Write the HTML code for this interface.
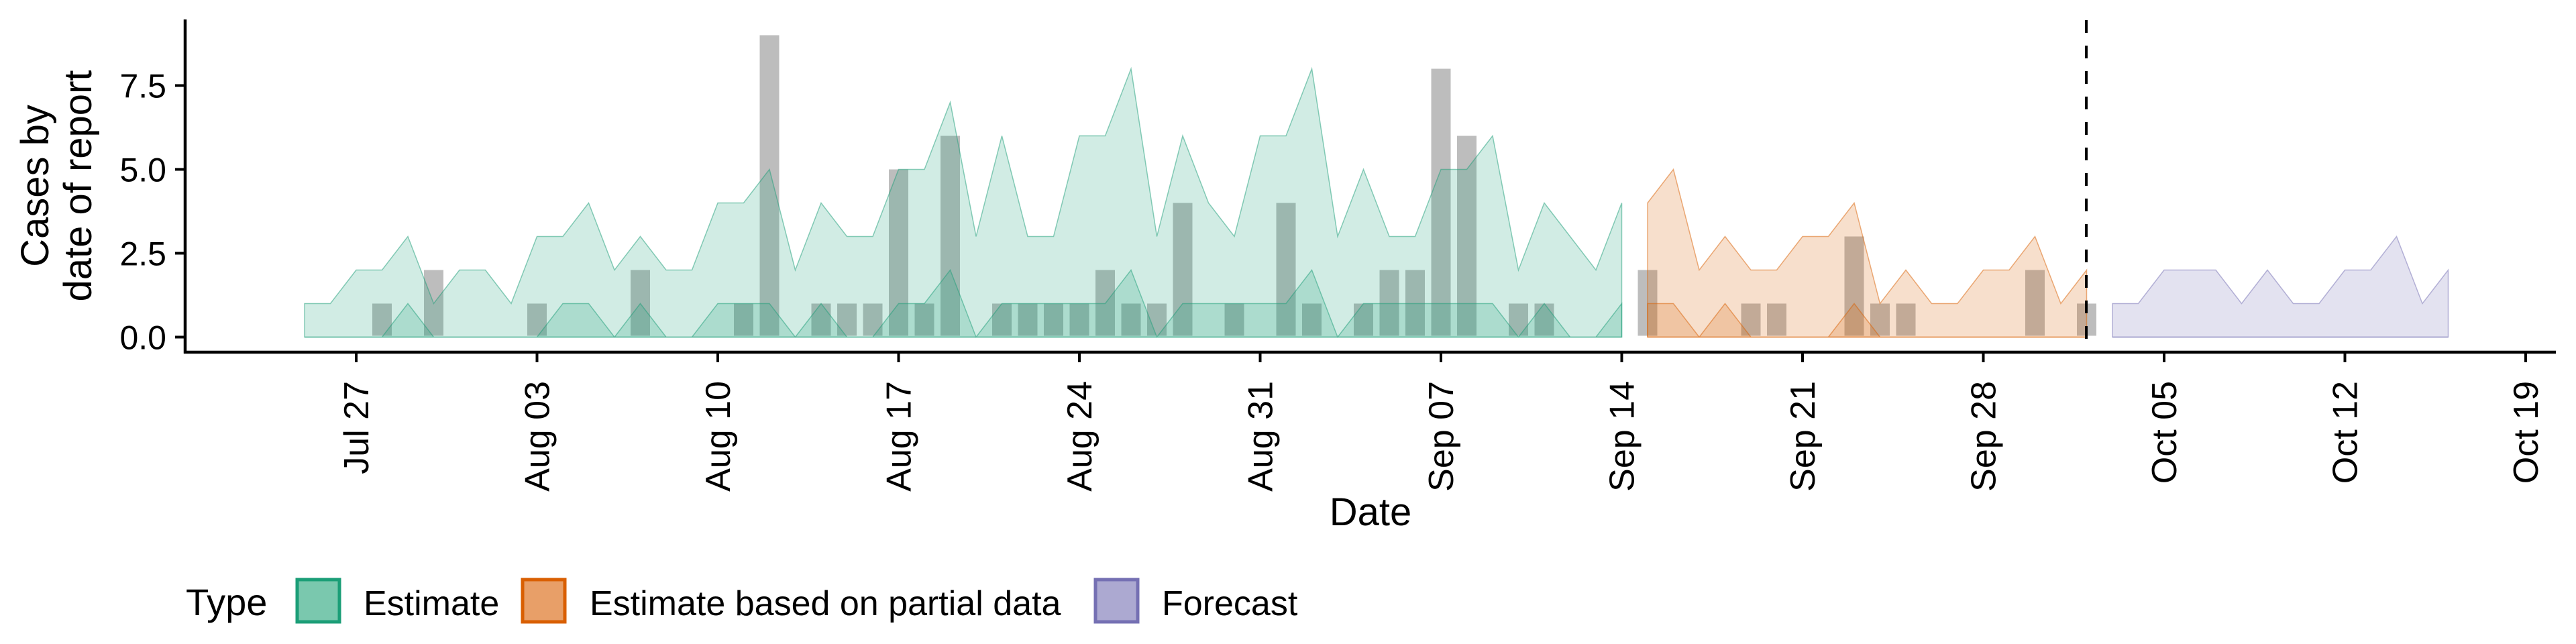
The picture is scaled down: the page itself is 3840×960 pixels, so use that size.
<!DOCTYPE html>
<html><head><meta charset="utf-8">
<style>
html,body{margin:0;padding:0;background:#fff;}
svg{display:block;font-family:"Liberation Sans",Arial,sans-serif;}
</style></head>
<body>
<svg id="chart" width="3840" height="960" viewBox="0 0 3840 960" xmlns="http://www.w3.org/2000/svg">
  <g id="bars"></g>
  <g id="ribbons"></g>
  <g id="axes"></g>
  <line x1="3110" y1="30" x2="3110" y2="525" stroke="#000" stroke-width="4" stroke-dasharray="19,19"/>
  <text x="2043" y="783" font-size="58" text-anchor="middle">Date</text>
  <text transform="translate(72,277) rotate(-90)" font-size="58" text-anchor="middle">Cases by</text>
  <text transform="translate(136,277) rotate(-90)" font-size="58" text-anchor="middle">date of report</text>
  <g>
    <text x="277" y="917" font-size="56">Type</text>
    <rect x="443" y="864" width="63" height="63" fill="#7ac8ae" stroke="#1b9e77" stroke-width="5"/>
    <text x="542" y="917" font-size="52">Estimate</text>
    <rect x="779" y="864" width="63" height="63" fill="#e89f68" stroke="#d95f02" stroke-width="5"/>
    <text x="879" y="917" font-size="52">Estimate based on partial data</text>
    <rect x="1633" y="864" width="63" height="63" fill="#aca9d1" stroke="#7570b3" stroke-width="5"/>
    <text x="1732" y="917" font-size="52">Forecast</text>
  </g>
</svg>
<script>
// day offsets relative to Jul 27
const estStartDay = -2;
const estUpper = [1,1,2,2,3,1,2,2,1,3,3,4,2,3,2,2,4,4,5,2,4,3,3,5,5,7,3,6,3,3,6,6,8,3,6,4,3,6,6,8,3,5,3,3,5,5,6,2,4,3,2,4];
const estInner = [0,0,0,0,1,0,0,0,0,0,1,1,0,1,0,0,1,1,1,0,1,0,0,1,1,2,0,1,1,1,1,1,2,0,1,1,1,1,1,2,0,1,1,1,1,1,1,0,1,0,0,1];
const partStartDay = 50;
const partUpper = [4,5,2,3,2,2,3,3,4,1,2,1,1,2,2,3,1,2];
const partInner = [1,1,0,1,0,0,0,0,1,0,0,0,0,0,0,0,0,0];
const foreStartDay = 68;
const foreUpper = [1,1,2,2,2,1,2,1,1,2,2,3,1,2];
const foreInner = [0,0,0,0,0,0,0,0,0,0,0,0,0,0];
const obsDays = [1,3,7,11,15,16,18,19,20,21,22,23,25,26,27,28,29,30,31,32,34,36,37,39,40,41,42,43,45,46,50,54,55,58,59,60,65,67];
const obsValues = [1,2,1,2,1,9,1,1,1,5,1,6,1,1,1,1,2,1,1,4,1,4,1,1,2,2,8,6,1,1,2,1,1,3,1,1,2,1];
const xTickDays = [0,7,14,21,28,35,42,49,56,63,70,77,84];
const xTickLabels = ["Jul 27","Aug 03","Aug 10","Aug 17","Aug 24","Aug 31","Sep 07","Sep 14","Sep 21","Sep 28","Oct 05","Oct 12","Oct 19"];
const yTicks = [0,2.5,5,7.5];
const yTickLabels = ["0.0","2.5","5.0","7.5"];

const NS = "http://www.w3.org/2000/svg";
function x(d){ return 531 + 38.5*d; }
function y(v){ return 502.5 - 50*v; }
function mk(tag, attrs, parent){
  const e = document.createElementNS(NS, tag);
  for (const k in attrs) e.setAttribute(k, attrs[k]);
  parent.appendChild(e);
  return e;
}
const bars = document.getElementById('bars');
obsDays.forEach((d,i)=>{
  const r = mk('rect', {x: x(d)-14.5, y: y(obsValues[i]), width: 29, height: y(0)-y(obsValues[i])-2, fill:'#bdbdbd'}, bars);
  
  
});
const rib = document.getElementById('ribbons');
function ribbon(start, vals, color, name){
  let pts = vals.map((v,i)=> x(start+i)+','+y(v));
  pts.push(x(start+vals.length-1)+','+y(0));
  pts.push(x(start)+','+y(0));
  const p = mk('polygon', {points: pts.join(' '), fill: color, 'fill-opacity': 0.2, stroke: color, 'stroke-opacity': 0.5, 'stroke-width': 1.5}, rib);
  
  
}
ribbon(estStartDay, estUpper, '#1b9e77', 'estimate-ribbon-outer');
ribbon(estStartDay, estInner, '#1b9e77', 'estimate-ribbon-inner');
ribbon(partStartDay, partUpper, '#d95f02', 'partial-ribbon-outer');
ribbon(partStartDay, partInner, '#d95f02', 'partial-ribbon-inner');
ribbon(foreStartDay, foreUpper, '#7570b3', 'forecast-ribbon-outer');
ribbon(foreStartDay, foreInner, '#7570b3', 'forecast-ribbon-inner');

const ax = document.getElementById('axes');
const yl = mk('line', {x1:276, y1:29, x2:276, y2:527, stroke:'#000', 'stroke-width':4.5}, ax);


const xl = mk('line', {x1:274, y1:525, x2:3810, y2:525, stroke:'#000', 'stroke-width':4.5}, ax);


yTicks.forEach((v,i)=>{
  const t = mk('line', {x1:261, y1:y(v), x2:276, y2:y(v), stroke:'#000', 'stroke-width':4}, ax);
  
  
  const tx = mk('text', {x:248, y:y(v)+18, 'font-size':50, 'text-anchor':'end'}, ax);
  tx.textContent = yTickLabels[i];
  
  
});
xTickDays.forEach((d,i)=>{
  const t = mk('line', {x1:x(d), y1:525, x2:x(d), y2:540, stroke:'#000', 'stroke-width':4}, ax);
  
  
  const tx = mk('text', {transform:'translate('+(x(d)+18)+',568) rotate(-90)', 'font-size':52, 'text-anchor':'end'}, ax);
  tx.textContent = xTickLabels[i];
  
  
});
</script>
</body></html>
